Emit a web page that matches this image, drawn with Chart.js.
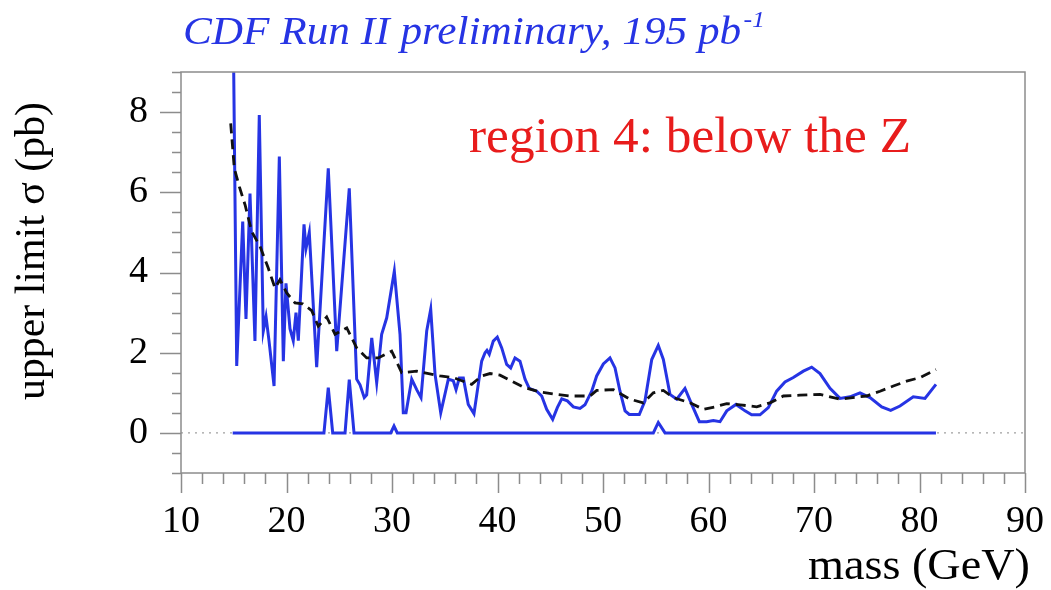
<!DOCTYPE html>
<html>
<head>
<meta charset="utf-8">
<script src="https://cdn.jsdelivr.net/npm/chart.js@4.4.1/dist/chart.umd.min.js"></script>
<style>
  html, body { margin: 0; padding: 0; background: #fff; }
  #wrap { width: 1051px; height: 590px; position: relative; }
</style>
</head>
<body>
<div id="wrap"><canvas id="limitChart"></canvas></div>
<script>
const obsMass = [14.9, 15.28, 15.85, 16.16, 16.54, 17.01, 17.42, 17.8, 18.06, 18.34, 18.82, 19.32, 19.7, 19.95,
  20.33, 20.64, 20.9, 21.12, 21.66, 21.85, 22.16, 22.86, 23.96, 24.76, 25.95, 26.65, 26.97, 27.37, 27.6,
  28.08, 28.55, 29.02, 29.5, 30.22, 30.76, 31.07, 31.33, 31.87, 32.34, 32.75, 33.29, 33.67, 34.08, 34.62,
  35.34, 35.81, 36.07, 36.38, 36.76, 37.23, 37.77, 38.5, 38.82, 39.0, 39.22, 39.6, 39.98, 40.4, 40.87,
  41.25, 41.66, 42.13, 42.61, 43.01, 43.72, 44.19, 44.66, 45.23, 45.67, 46.09, 46.62, 47.19, 47.82, 48.29,
  48.93, 49.4, 50.03, 50.66, 51.14, 51.61, 52.09, 52.49, 53.44, 53.98, 54.62, 55.24, 55.72, 56.35, 56.99,
  57.77, 58.41, 59.13, 59.83, 60.46, 61.09, 61.73, 62.61, 63.46, 64.09, 64.88, 65.67, 66.46, 67.25, 68.04,
  68.99, 69.78, 70.57, 71.52, 72.46, 73.41, 74.36, 75.31, 76.42, 77.27, 78.15, 79.41, 80.52, 81.56];
const obsLimit = [11.5, 1.67, 5.27, 2.84, 5.97, 2.29, 7.93, 2.54, 2.9, 2.3, 1.17, 6.89, 1.79, 3.73,
  2.6, 2.3, 3.0, 2.3, 5.2, 4.6, 5.0, 1.64, 6.6, 2.04, 6.1, 1.34, 1.2, 0.88, 0.95,
  2.37, 1.25, 2.46, 2.87, 4.03, 2.46, 0.5, 0.5, 1.34, 1.08, 0.88, 2.54, 3.08, 1.46, 0.5,
  1.34, 1.3, 1.08, 1.37, 1.37, 0.71, 0.48, 1.79, 2.0, 2.06, 1.96, 2.29, 2.39, 2.12, 1.71,
  1.62, 1.87, 1.79, 1.34, 1.11, 1.04, 0.92, 0.59, 0.34, 0.63, 0.85, 0.8, 0.65, 0.61, 0.7,
  1.04, 1.42, 1.72, 1.87, 1.62, 1.04, 0.55, 0.46, 0.46, 0.8, 1.83, 2.18, 1.83, 0.96, 0.84,
  1.11, 0.71, 0.28, 0.28, 0.31, 0.28, 0.55, 0.71, 0.55, 0.45, 0.45, 0.63, 1.04, 1.27, 1.38,
  1.54, 1.64, 1.48, 1.11, 0.86, 0.9, 1.0, 0.88, 0.65, 0.56, 0.67, 0.9, 0.86, 1.21];

const expMass = [14.71, 15.05, 15.53, 16.07, 16.7, 17.49, 18.27, 18.91, 19.38, 20.02, 20.81, 21.54, 22.39,
  23.01, 23.81, 24.6, 25.71, 26.65, 27.6, 28.7, 29.97, 30.92, 32.34, 34.55, 35.81, 37.55, 38.5, 39.29,
  40.24, 41.35, 42.45, 43.87, 45.61, 46.87, 48.77, 49.4, 50.98, 52.56, 53.82, 54.77, 55.72, 56.67, 58.25,
  59.51, 60.62, 61.73, 62.99, 64.57, 65.83, 67.09, 68.67, 70.57, 72.46, 74.99, 76.26, 77.52, 78.78, 80.05, 81.56];
const expLimit = [7.72, 6.6, 6.14, 5.69, 5.02, 4.65, 4.11, 3.61, 3.82, 3.49, 3.24, 3.22, 3.05,
  2.66, 2.89, 2.46, 2.62, 2.12, 1.87, 1.87, 2.04, 1.5, 1.54, 1.42, 1.38, 1.21, 1.42, 1.48,
  1.44, 1.29, 1.14, 1.03, 0.96, 0.92, 0.92, 1.06, 1.08, 0.84, 0.75, 1.0, 1.06, 0.88, 0.75,
  0.59, 0.65, 0.73, 0.7, 0.65, 0.75, 0.92, 0.94, 0.96, 0.84, 0.92, 1.04, 1.17, 1.29, 1.38, 1.58];

const lowMass = [14.9, 23.55, 23.96, 24.38, 25.55, 25.95, 26.4, 29.88, 30.19, 30.5, 54.77, 55.24, 55.88, 81.56];
const lowLimit = [0, 0, 1.13, 0, 0, 1.33, 0, 0, 0.17, 0, 0, 0.26, 0, 0];

const xTicks = [10, 20, 30, 40, 50, 60, 70, 80, 90];
const yTicks = [0, 2, 4, 6, 8];

const blue = 'rgb(38, 52, 228)';
const axisGrey = '#8c8c8c';
const serif = "'Liberation Serif', 'Times New Roman', serif";

function toPoints(xs, ys) {
  return xs.map((x, i) => ({ x: x, y: ys[i] }));
}

// draw text squeezed/stretched to a given width
function fitText(ctx, text, x, y, width) {
  const w = ctx.measureText(text).width;
  ctx.save();
  ctx.translate(x, y);
  ctx.scale(width / w, 1);
  ctx.fillText(text, 0, 0);
  ctx.restore();
}

const decor = {
  id: 'decor',
  afterDraw(chart) {
    const { ctx, chartArea: a } = chart;
    const xs = chart.scales.x;
    const ys = chart.scales.y;
    ctx.save();

    ctx.strokeStyle = axisGrey;
    ctx.lineWidth = 1.5;
    ctx.strokeRect(a.left, a.top, a.right - a.left, a.bottom - a.top);

    ctx.beginPath();
    for (let v = -1; v <= 9.001; v += 0.5) {
      const py = Math.round(ys.getPixelForValue(v)) + 0.5;
      const len = (Math.abs(v % 2) < 0.001) ? 21 : 9;
      ctx.moveTo(a.left, py);
      ctx.lineTo(a.left - len, py);
    }
    for (let v = 10; v <= 90.001; v += 2) {
      const px = Math.round(xs.getPixelForValue(v)) + 0.5;
      const len = (Math.abs(v % 10) < 0.001) ? 20 : 11;
      ctx.moveTo(px, a.bottom);
      ctx.lineTo(px, a.bottom + len);
    }
    ctx.stroke();

    ctx.textBaseline = 'alphabetic';
    ctx.textAlign = 'left';

    // title with superscript
    ctx.fillStyle = blue;
    const main = 'CDF Run II preliminary, 195 pb';
    ctx.font = 'italic 40px ' + serif;
    const mw = ctx.measureText(main).width;
    ctx.font = 'italic 24px ' + serif;
    const sw = ctx.measureText('-1').width;
    const sx = 582 / (mw + sw + 2);
    ctx.save();
    ctx.translate(183, 44);
    ctx.scale(sx, 1);
    ctx.font = 'italic 40px ' + serif;
    ctx.fillText(main, 0, 0);
    ctx.font = 'italic 24px ' + serif;
    ctx.fillText('-1', mw + 2, -17);
    ctx.restore();

    ctx.fillStyle = 'rgb(232, 28, 28)';
    ctx.font = '50px ' + serif;
    fitText(ctx, 'region 4: below the Z', 469, 152, 442);

    ctx.fillStyle = '#000';
    ctx.font = '44px ' + serif;
    fitText(ctx, 'mass (GeV)', 808, 579, 222);

    ctx.font = '42px ' + serif;
    ctx.translate(44, 400);
    ctx.rotate(-Math.PI / 2);
    fitText(ctx, 'upper limit \u03c3 (pb)', 0, 0, 298);
    ctx.restore();
  }
};

const ctx = document.getElementById('limitChart').getContext('2d');
new Chart(ctx, {
  type: 'line',
  data: {
    datasets: [
      {
        data: toPoints([10, 90], [0, 0]),
        borderColor: '#a0a0a0',
        borderWidth: 1.2,
        borderDash: [2, 5],
        pointRadius: 0,
        order: 4
      },
      {
        data: toPoints(lowMass, lowLimit),
        borderColor: blue,
        borderWidth: 3,
        pointRadius: 0,
        order: 3
      },
      {
        data: toPoints(expMass, expLimit),
        borderColor: '#111',
        borderWidth: 2.8,
        borderDash: [10, 6],
        pointRadius: 0,
        order: 1
      },
      {
        data: toPoints(obsMass, obsLimit),
        borderColor: blue,
        borderWidth: 3,
        pointRadius: 0,
        order: 2
      }
    ]
  },
  options: {
    responsive: true,
    maintainAspectRatio: false,
    animation: false,
    events: [],
    clip: 0,
    layout: { padding: { left: 0, top: 72, right: 26, bottom: 0 } },
    plugins: { legend: { display: false }, tooltip: { enabled: false } },
    scales: {
      x: {
        type: 'linear',
        min: 10,
        max: 90,
        afterBuildTicks: s => { s.ticks = xTicks.map(v => ({ value: v })); },
        afterFit: s => { s.height = 117; s.paddingLeft = 0; s.paddingRight = 0; },
        grid: { display: false, drawTicks: false },
        border: { display: false },
        ticks: { color: '#000', padding: 26, font: { family: serif, size: 38 } }
      },
      y: {
        type: 'linear',
        min: -1,
        max: 9,
        afterBuildTicks: s => { s.ticks = yTicks.map(v => ({ value: v })); },
        afterFit: s => { s.width = 181; s.paddingTop = 0; s.paddingBottom = 0; },
        grid: { display: false, drawTicks: false },
        border: { display: false },
        ticks: { color: '#000', padding: 33, font: { family: serif, size: 38 } }
      }
    }
  },
  plugins: [decor]
});
</script>
</body>
</html>
